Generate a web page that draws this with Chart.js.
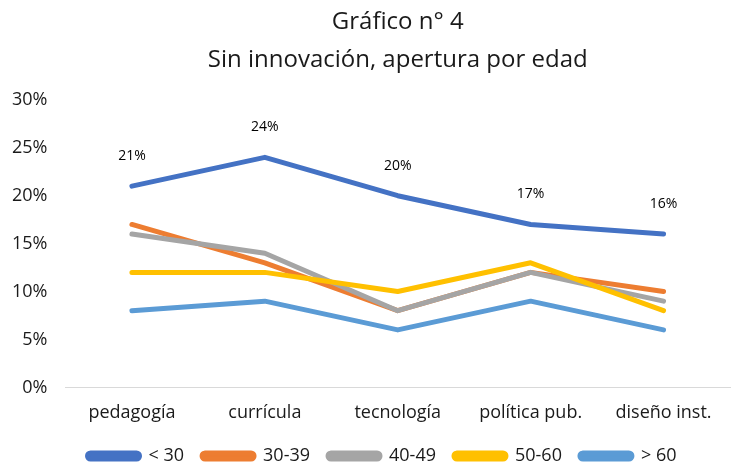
<!DOCTYPE html>
<html><head><meta charset="utf-8">
<script src="https://cdn.jsdelivr.net/npm/chart.js@4/dist/chart.umd.min.js"></script>
<style>html,body{margin:0;padding:0;background:#fff}#wrap{width:736px;height:464px}</style>
</head><body><div id="wrap"><canvas id="c"></canvas></div>
<script>
const categories = ["pedagogía", "currícula", "tecnología", "política pub.", "diseño inst."];
const seriesNames = ["< 30", "30-39", "40-49", "50-60", "> 60"];
const under30 = [21, 24, 20, 17, 16];
const s30_39 = [17, 13, 8, 12, 10];
const s40_49 = [16, 14, 8, 12, 9];
const s50_60 = [12, 12, 10, 13, 8];
const over60 = [8, 9, 6, 9, 6];
const yTicks = [0, 5, 10, 15, 20, 25, 30];
const colors = ["#4472C4", "#ED7D31", "#A5A5A5", "#FFC000", "#5B9BD5"];
const FONT = "'Open Sans', Lato, sans-serif";
const LEGEND_SHRINK = 10;

const allSeries = [under30, s30_39, s40_49, s50_60, over60];
const datasets = allSeries.map((d, i) => ({
  label: seriesNames[i], data: d, borderColor: colors[i], backgroundColor: colors[i],
  borderWidth: 5, pointRadius: 0, borderCapStyle: 'round', borderJoinStyle: 'round',
  tension: 0, order: 5 - i
}));

const labelPlugin = {
  id: 'lbl',
  beforeLayout(chart) {
    const lg = chart.legend;
    if (lg && !lg._patched) {
      const f = lg.fit;
      lg.fit = function () { f.call(this); this.height -= LEGEND_SHRINK; };
      lg._patched = true;
    }
  },
  afterLayout(chart) {
    // center the title over the plot area, position legend like the original
    const t = chart.titleBlock, ca = chart.chartArea;
    if (t) { t.left = ca.left; t.right = ca.right; }
    const lg = chart.legend;
    if (lg) { lg.left += 20; lg.right += 20; lg.top -= LEGEND_SHRINK; lg.bottom -= LEGEND_SHRINK; }
  },
  afterDatasetsDraw(chart) {
    const ctx = chart.ctx;
    const meta = chart.getDatasetMeta(0);
    ctx.save();
    ctx.font = "14px " + FONT;
    ctx.fillStyle = "#000";
    ctx.textAlign = "center";
    ctx.textBaseline = "middle";
    meta.data.forEach((p, i) => {
      ctx.fillText(under30[i] + "%", p.x, p.y - 30);
    });
    ctx.restore();
  }
};

new Chart(document.getElementById('c'), {
  type: 'line',
  data: { labels: categories, datasets },
  plugins: [labelPlugin],
  options: {
    responsive: true, maintainAspectRatio: false, animation: false,
    layout: { padding: { left: -6, right: 6, top: 0, bottom: -11 } },
    plugins: {
      title: { display: true, text: ["Gráfico n° 4", "Sin innovación, apertura por edad"],
        font: { family: FONT, size: 24, weight: 'normal', lineHeight: 1.58 }, color: "#1a1a1a",
        padding: { top: 3, bottom: 21 } },
      legend: { position: 'bottom',
        labels: { font: { family: FONT, size: 18 }, color: "#1a1a1a", boxWidth: 52, boxHeight: 6,
          useBorderRadius: true, borderRadius: 3, padding: 18,
          sort: (a, b) => a.datasetIndex - b.datasetIndex } },
      tooltip: { enabled: false }
    },
    scales: {
      x: { offset: true, grid: { display: false, drawTicks: false }, border: { color: "#D9D9D9", width: 1 },
        ticks: { font: { family: FONT, size: 18 }, color: "#1a1a1a", padding: 15 } },
      y: { min: 0, max: 30, grid: { display: false, drawTicks: false }, border: { display: false },
        afterBuildTicks: (ax) => { ax.ticks = yTicks.map(v => ({ value: v })); },
        ticks: { font: { family: FONT, size: 18 }, color: "#1a1a1a", padding: 18,
          callback: (v) => v + "%" } }
    }
  }
});
</script></body></html>
